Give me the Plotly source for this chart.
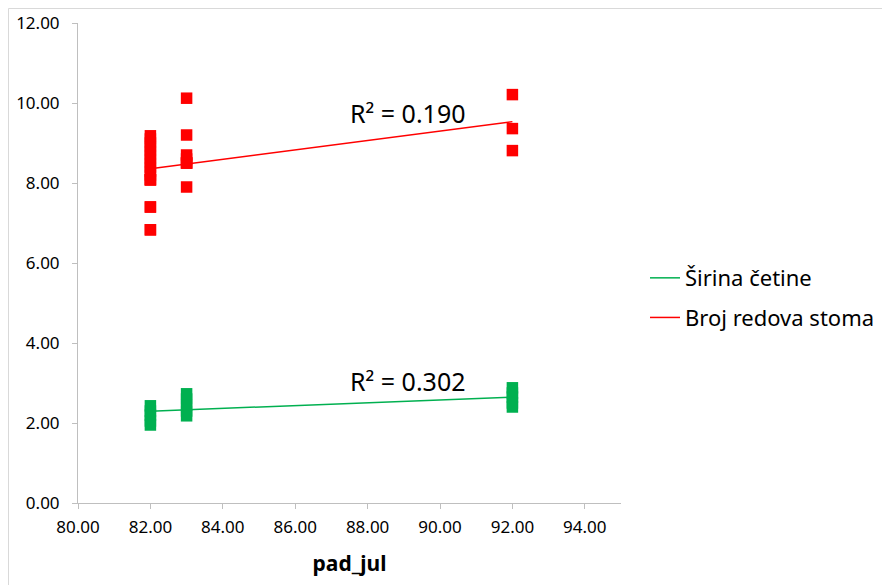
import numpy as np
import plotly.graph_objects as go

# ---- data ----
stoma_x = [82]*18 + [83]*8 + [92]*3
stoma_y = [9.18, 9.1, 9.0, 8.9, 8.8, 8.7, 8.6, 8.5, 8.4, 8.3, 8.2, 8.08, 8.08, 8.08,
           7.4, 7.4, 6.83, 6.83,
           10.12, 9.2, 8.7, 8.6, 8.5, 8.5, 8.5, 7.9,
           10.21, 9.36, 8.81]
sirina_x = [82]*5 + [83]*5 + [92]*5
sirina_y = [2.43, 2.3, 2.2, 2.05, 1.95,
            2.73, 2.6, 2.45, 2.3, 2.18,
            2.88, 2.75, 2.65, 2.5, 2.40]
series_names = ["Širina četine", "Broj redova stoma"]
r2_labels = ["R² = 0.302", "R² = 0.190"]
r2_pos = [(87.45, 3.05), (87.45, 9.75)]
x_ticks = [80, 82, 84, 86, 88, 90, 92, 94]
y_ticks = [0, 2, 4, 6, 8, 10, 12]

GREEN = "#00B050"
RED = "#FF0000"

fig = go.Figure()

def trend(xs, ys):
    xs = np.array(xs, float); ys = np.array(ys, float)
    b, a = np.polyfit(xs, ys, 1)
    xl = np.array([xs.min(), xs.max()])
    return xl, a + b * xl

for i, (xs, ys, col) in enumerate([(sirina_x, sirina_y, GREEN),
                                   (stoma_x, stoma_y, RED)]):
    fig.add_trace(go.Scatter(x=xs, y=ys, mode="markers", showlegend=False,
                             marker=dict(symbol="square", size=11.5, color=col,
                                         line=dict(width=0))))
    xl, yl = trend(xs, ys)
    fig.add_trace(go.Scatter(x=xl, y=yl, mode="lines", name=series_names[i],
                             legendgroup=f"g{i}",
                             line=dict(color=col, width=1.5)))
    fig.add_annotation(x=r2_pos[i][0], y=r2_pos[i][1], text=r2_labels[i],
                       showarrow=False, xanchor="left", yanchor="middle",
                       font=dict(size=25, color="#000000"))

W, H = 882, 577
L, T, R, B = 70, 15, 269, 82
pw, ph = W - L - R, H - T - B
fig.update_layout(
    width=W, height=H,
    margin=dict(l=L, r=R, t=T, b=B, autoexpand=False),
    paper_bgcolor="white", plot_bgcolor="white",
    font=dict(family="Noto Sans", color="#000000"),
    showlegend=True,
    legend=dict(x=1 + 24 / pw, y=0.427, xanchor="left", yanchor="middle",
                font=dict(size=22), tracegroupgap=8, itemwidth=30),
    xaxis=dict(range=[80, 95], tickvals=x_ticks, automargin=False,
               ticktext=[f"{v:.2f}" for v in x_ticks],
               showgrid=False, zeroline=False, showline=True,
               linecolor="#BFBFBF", linewidth=1, ticks="outside",
               tickcolor="#BFBFBF", ticklen=5, tickfont=dict(size=17),
               ticklabelstandoff=4,
               title=dict(text="<b>pad_jul</b>", font=dict(size=21), standoff=18)),
    yaxis=dict(range=[0, 12], tickvals=y_ticks, automargin=False,
               ticktext=[f"{v:.2f}" for v in y_ticks],
               showgrid=False, zeroline=False, showline=True,
               linecolor="#BFBFBF", linewidth=1, ticks="outside",
               tickcolor="#BFBFBF", ticklen=5, tickfont=dict(size=17),
               ticklabelstandoff=9),
)

# light outer chart border (top and left edges)
x_left = -(L - 0.5) / pw
y_top = 1 + (T - 0.5) / ph
fig.add_shape(type="line", xref="paper", yref="paper",
              x0=x_left, x1=1 + R / pw, y0=y_top, y1=y_top,
              line=dict(color="#D9D9D9", width=1), layer="below")
fig.add_shape(type="line", xref="paper", yref="paper",
              x0=x_left, x1=x_left, y0=-B / ph, y1=y_top,
              line=dict(color="#D9D9D9", width=1), layer="below")

fig.write_html("out.html")
